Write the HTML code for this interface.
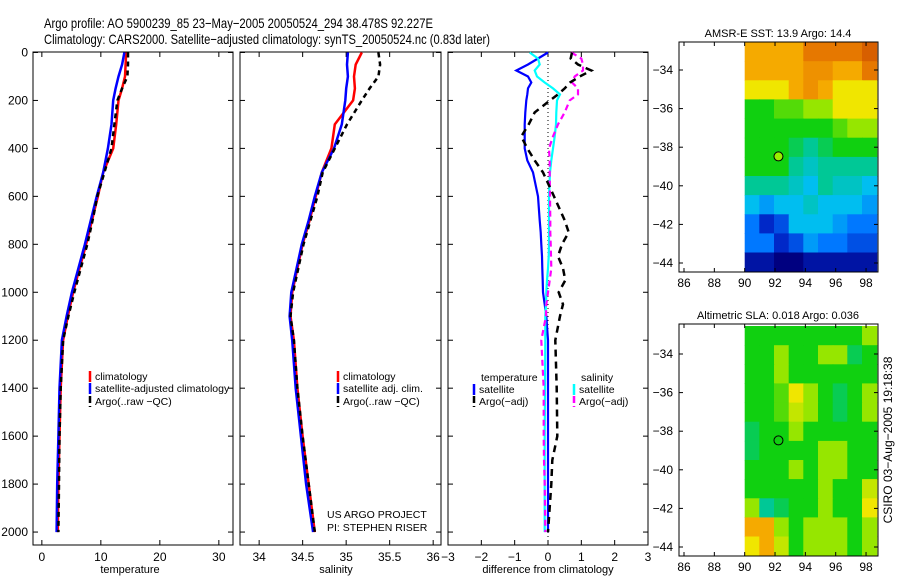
<!DOCTYPE html>
<html><head><meta charset="utf-8"><style>
body{margin:0;background:#fff;}
svg{display:block;font-family:"Liberation Sans",sans-serif;}
</style></head><body>
<svg id="c" width="900" height="580" xmlns="http://www.w3.org/2000/svg">
<text x="44" y="28" font-size="14" textLength="389" lengthAdjust="spacingAndGlyphs">Argo profile: AO 5900239_85 23−May−2005 20050524_294 38.478S 92.227E</text>
<text x="44" y="44" font-size="14" textLength="446" lengthAdjust="spacingAndGlyphs">Climatology: CARS2000. Satellite−adjusted climatology: synTS_20050524.nc (0.83d later)</text>
</svg>
<script>
// ---- data ----
const depths = [0,50,100,150,200,300,400,500,600,700,800,900,1000,1100,1200,1400,1600,1800,2000];
const tempClim = [14.3,14.2,14.1,13.6,13.0,12.6,12.1,10.4,9.5,8.5,7.5,6.4,5.3,4.4,3.6,3.2,3.0,2.8,2.7];
const tempSat  = [14.0,13.6,13.0,12.5,12.1,11.8,11.2,10.4,9.3,8.3,7.3,6.2,5.1,4.2,3.4,3.0,2.8,2.6,2.5];
const tempArgo = [14.6,14.6,14.5,13.6,12.8,12.3,11.8,10.6,9.4,8.6,7.7,6.6,5.5,4.5,3.6,3.2,3.0,2.9,2.8];
const salClim = [35.18,35.11,35.09,35.10,35.08,34.87,34.83,34.72,34.65,34.58,34.50,34.44,34.38,34.36,34.40,34.44,34.50,34.57,34.64];
const salSat  = [35.02,35.01,35.02,35.00,34.99,34.95,34.86,34.72,34.64,34.57,34.49,34.43,34.37,34.35,34.38,34.42,34.48,34.54,34.62];
const salArgo = [35.37,35.39,35.37,35.27,35.18,35.01,34.87,34.73,34.67,34.59,34.51,34.45,34.39,34.36,34.40,34.44,34.50,34.57,34.64];
const diffDepths = [0,25,50,75,100,125,150,175,200,250,300,350,400,450,500,600,700,750,800,850,900,950,1000,1050,1100,1200,1400,1600,1700,1800,2000];
const dTempSat  = [0,-0.3,-0.6,-0.95,-0.6,-0.5,-0.6,-0.62,-0.65,-0.68,-0.7,-0.7,-0.7,-0.62,-0.45,-0.3,-0.25,-0.22,-0.2,-0.18,-0.17,-0.16,-0.15,-0.1,-0.05,0,0,0,0,0,0];
const dSalSat   = [-0.55,-0.3,-0.25,-0.4,-0.33,-0.1,0.15,0.36,0.27,0.25,0.24,0.2,0.15,0.1,0.06,0.03,0.03,0.03,0.03,0.02,0.0,-0.03,-0.05,-0.06,-0.08,-0.08,-0.09,-0.1,-0.1,-0.1,-0.1];
const dSalArgo  = [0.7,1.0,1.05,1.05,0.8,0.72,0.9,0.9,0.65,0.5,0.3,0.15,0.03,0.05,0.05,0.06,0.07,0.07,0.08,0.09,0.1,0.05,0.0,-0.05,-0.06,-0.2,-0.13,-0.13,-0.12,-0.1,-0.08];
const dTempArgo = [0.72,0.68,0.9,1.3,0.95,0.66,0.5,0.3,0.06,-0.4,-0.58,-0.8,-0.62,-0.4,-0.15,0.18,0.5,0.62,0.42,0.3,0.45,0.52,0.32,0.45,0.36,0.22,0.26,0.28,0.13,0.1,0.0];
const depthTicks = [0,200,400,600,800,1000,1200,1400,1600,1800,2000];
const tempTicks = [0,10,20,30];
const salTicks = [34,34.5,35,35.5,36];
const diffTicks = [-3,-2,-1,0,1,2,3];
const lonTicks = [86,88,90,92,94,96,98];
const latTicks = [-34,-36,-38,-40,-42,-44];
const sstGrid = [
[8,8,8,8,9,9,9,9,9.5],
[8,8,8,8,8.5,8.5,8,8,9],
[7,7,7,8,8.5,8,7,7,7],
[5,5,5.5,5.5,6,6,7,7,7],
[5,5,5,5,5,5,5.5,6,6],
[5,5,5,4.5,4,4.5,5,5,5],
[5,5,5,4,3.5,4,4,4,4],
[4,4,4,3.5,3,4,3.5,3.5,3],
[3,2.5,3,3,3.5,3,3,3,2.5],
[2,1,1.5,3,3,3,2.5,2,2],
[2,2,1,1.5,2.5,2,2,1.5,1.5],
[0.5,0.5,0,0,0.5,0.5,0.5,0.5,0.5]];
const slaGrid = [
[5,5,5,5,5,5,5,5,6],
[5,5,6,5,5,6,6,4.5,5],
[5,5,6,5,5,5,5,5,5],
[5,5,5.5,7,6,5,4.5,5,6],
[5,5,5.5,6.5,6,5,4.5,5,6],
[4.5,5,5,6,5,5,5,5,5],
[4.5,5,5,5,5,6,6,5,5],
[5,5,5,6,5,6,6,5,5],
[5,5,5,5,5,6,5,5,6.5],
[6,4,4.5,5,5,6,5,5,7],
[8,8,6,5,6,6,6,5,6],
[7,8,6.5,5,6,6,6,5,6]];

// ---- helpers ----
const svg = document.getElementById('c');
const NS = 'http://www.w3.org/2000/svg';
function mk(tag, attrs, parent){const e=document.createElementNS(NS,tag);for(const k in attrs)e.setAttribute(k,attrs[k]);(parent||svg).appendChild(e);return e;}
const PT=52, PB=545, D0=-2, D1=2054;
const yD = d => PT + (d-D0)/(D1-D0)*(PB-PT);
function panel(name,x0,x1,v0,v1,ticks,label,lx,showY){
  const xs = v => x0 + (v-v0)/(v1-v0)*(x1-x0);
  const g=mk('g',{});
  
  
  const r=mk('rect',{x:x0,y:PT,width:x1-x0,height:PB-PT,fill:'none',stroke:'#000','stroke-width':1},g);
  
  
  ticks.forEach(t=>{const X=xs(t);
    mk('line',{x1:X,x2:X,y1:PB,y2:PB-5,stroke:'#000'},g);
    mk('line',{x1:X,x2:X,y1:PT,y2:PT+5,stroke:'#000'},g);
    const tx=mk('text',{x:X,y:PB+16,'font-size':12,'text-anchor':'middle'},g);tx.textContent=(t<0?'−'+(-t):String(t));
    
    
  });
  depthTicks.forEach(d=>{const Y=yD(d);
    mk('line',{x1:x0,x2:x0+5,y1:Y,y2:Y,stroke:'#000'},g);
    mk('line',{x1:x1,x2:x1-5,y1:Y,y2:Y,stroke:'#000'},g);
    if(showY){const tx=mk('text',{x:28,y:Y+4,'font-size':12,'text-anchor':'end'},g);tx.textContent=d;
      
      }
  });
  const xl=mk('text',{x:lx,y:573,'font-size':11,'text-anchor':'middle'},g);xl.textContent=label;
  
  
  return xs;
}
function series(name,xs,vals,dep,color,w,dash){
  const pts=vals.map((v,i)=>xs(v).toFixed(1)+','+yD(dep[i]).toFixed(1)).join(' ');
  const p=mk('polyline',{points:pts,fill:'none',stroke:color,'stroke-width':w});
  if(dash)p.setAttribute('stroke-dasharray',dash);
  
  
}
function legend(x,y,color,text,dash){
  const l=mk('line',{x1:x,x2:x,y1:y-9,y2:y+2,stroke:color,'stroke-width':2.5});
  if(dash)l.setAttribute('stroke-dasharray','7,3');
  
  
  const t=mk('text',{x:x+5,y:y,'font-size':10.5});t.textContent=text;
  
  
}
function txt(x,y,s,name,size,anchor){const t=mk('text',{x:x,y:y,'font-size':size||11,'text-anchor':anchor||'start'});t.textContent=s;
  
  return t;}

// panel 1
const xT = panel('temperature-panel',33,233,-1.5,32.4,tempTicks,'temperature',130,true);
series('temp-climatology',xT,tempClim,depths,'#f00',2.5);
series('temp-satellite',xT,tempSat,depths,'#00f',2.5);
series('temp-argo',xT,tempArgo,depths,'#000',2.5,'5,4');
legend(90,380,'#f00','climatology');
legend(90,392,'#00f','satellite-adjusted climatology');
legend(90,405,'#000','Argo(..raw −QC)',true);

// panel 2
const xS = panel('salinity-panel',240,441,33.78,36.09,salTicks,'salinity',336,false);
series('sal-climatology',xS,salClim,depths,'#f00',2.5);
series('sal-satellite',xS,salSat,depths,'#00f',2.5);
series('sal-argo',xS,salArgo,depths,'#000',2.5,'5,4');
legend(338,380,'#f00','climatology');
legend(338,392,'#00f','satellite adj. clim.');
legend(338,405,'#000','Argo(..raw −QC)',true);
txt(327,518,'US ARGO PROJECT','project-label',10.5);
txt(327,531,'PI: STEPHEN RISER','pi-label',10.5);

// panel 3
const xD = panel('difference-panel',448,648,-3,3,diffTicks,'difference from climatology',548,false);
const zl=mk('line',{x1:xD(0),x2:xD(0),y1:PT,y2:PB,stroke:'#000','stroke-dasharray':'1,3'});


series('diff-temp-satellite',xD,dTempSat,diffDepths,'#00f',2.2);
series('diff-sal-satellite',xD,dSalSat,diffDepths,'#0ff',2.2);
series('diff-sal-argo',xD,dSalArgo,diffDepths,'#f0f',2.2,'6,4');
series('diff-temp-argo',xD,dTempArgo,diffDepths,'#000',2.5,'7,5');
txt(481,381,'temperature','legend-temperature-heading',10.5);
legend(474,393,'#00f','satellite');
legend(474,405,'#000','Argo(−adj)',true);
txt(581,381,'salinity','legend-salinity-heading',10.5);
legend(574,393,'#0ff','satellite');
legend(574,405,'#f0f','Argo(−adj)',true);

// colormap
const stops=[[0,[0,0,128]],[1,[0,40,200]],[2,[0,120,255]],[3,[0,190,240]],[4,[0,200,150]],[5,[16,208,16]],[6,[150,230,0]],[7,[240,230,0]],[8,[245,170,0]],[9,[230,120,0]],[10,[200,70,0]]];
function cmap(v){v=Math.max(0,Math.min(10,v));for(let i=0;i<stops.length-1;i++){if(v<=stops[i+1][0]){const t=(v-stops[i][0]);const a=stops[i][1],b=stops[i+1][1];return 'rgb('+a.map((c,k)=>Math.round(c+(b[k]-c)*t)).join(',')+')';}}return 'rgb(200,70,0)';}

function map(name,top,bot,lat34,lat44,grid,title,titleY){
  const L=679,R=878;
  const xL = lon => 684 + (lon-86)*15.17;
  const yL = lat => lat34 + (lat+34)/(-10)*(lat44-lat34);
  const g=mk('g',{});
  
  
  const rows=grid.length, cols=grid[0].length;
  const lon0=90, lon1=98.7, latT=-32.55, latB=-44.45;
  grid.forEach((row,i)=>row.forEach((v,j)=>{
    const xa=xL(lon0+(lon1-lon0)*j/cols), xb=xL(lon0+(lon1-lon0)*(j+1)/cols);
    const ya=yL(latT+(latB-latT)*i/rows), yb=yL(latT+(latB-latT)*(i+1)/rows);
    const c=mk('rect',{x:xa.toFixed(1),y:ya.toFixed(1),width:(xb-xa+0.6).toFixed(1),height:(yb-ya+0.6).toFixed(1),fill:cmap(v)},g);
    
    
  }));
  const fr=mk('rect',{x:L,y:top,width:R-L,height:bot-top,fill:'none',stroke:'#000'},g);
  
  
  lonTicks.forEach(l=>{const X=xL(l);
    mk('line',{x1:X,x2:X,y1:bot,y2:bot-4,stroke:'#000'},g);
    mk('line',{x1:X,x2:X,y1:top,y2:top+4,stroke:'#000'},g);
    const t=mk('text',{x:X,y:bot+15,'font-size':12,'text-anchor':'middle'},g);t.textContent=l;
    
    
  });
  latTicks.forEach(l=>{const Y=yL(l);
    mk('line',{x1:L,x2:L+4,y1:Y,y2:Y,stroke:'#000'},g);
    mk('line',{x1:R,x2:R-4,y1:Y,y2:Y,stroke:'#000'},g);
    const t=mk('text',{x:673,y:Y+4,'font-size':12,'text-anchor':'end'},g);t.textContent='−'+(-l);
    
    
  });
  const d=mk('circle',{cx:xL(92.227),cy:yL(-38.478),r:4.5,fill:name==='sst-map'?'#9e0':'none',stroke:'#000'},g);
  
  
  txt(778,titleY,title,name+'-title',11,'middle');
}
map('sst-map',42,272,70,263,sstGrid,'AMSR-E SST: 13.9 Argo: 14.4',37);
map('sla-map',324,556,354,547,slaGrid,'Altimetric SLA: 0.018 Argo: 0.036',319);
const st=txt(0,0,'CSIRO 03−Aug−2005 19:18:38','timestamp',12,'middle');
st.setAttribute('transform','translate(892,440) rotate(-90)');
</script>
</body></html>
